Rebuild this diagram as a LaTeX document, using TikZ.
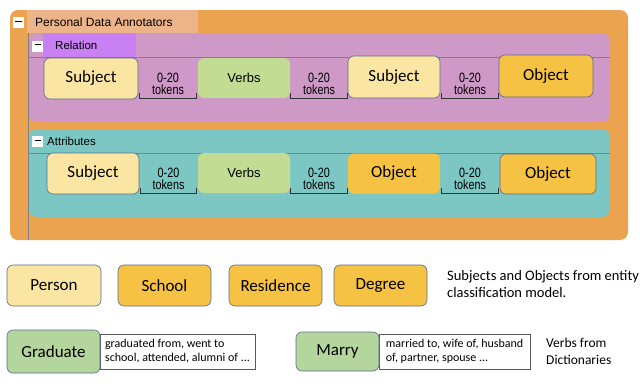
\documentclass[tikz,border=0pt]{standalone}
\usepackage{fontspec}
\setmainfont{Carlito}
\newfontfamily\arialf{Liberation Sans}
\usetikzlibrary{positioning}

\definecolor{frameorange}{HTML}{EBA350}
\definecolor{titletab}{HTML}{EDB48A}
\definecolor{relpink}{HTML}{CE98C7}
\definecolor{reltab}{HTML}{C880F2}
\definecolor{attrteal}{HTML}{7CC7C4}
\definecolor{subjyellow}{HTML}{FBE5A3}
\definecolor{objorange}{HTML}{F5C243}
\definecolor{verbgreen}{HTML}{C3DC93}
\definecolor{dictgreen}{HTML}{B4D59C}
\definecolor{edgeblue}{HTML}{5A6A8E}
\definecolor{rulegray}{HTML}{7F7F86}

\begin{document}
\begin{tikzpicture}[
x=1pt, y=-1pt,
ent/.style={draw=edgeblue, line width=0.6pt, rounded corners=6pt, inner sep=0pt,
  font=\fontsize{17}{19}\selectfont},
subj/.style={ent, fill=subjyellow},
obj/.style={ent, fill=objorange},
plainobj/.style={rounded corners=6pt, fill=objorange, inner sep=0pt,
  font=\fontsize{17}{19}\selectfont},
verb/.style={rounded corners=6pt, fill=verbgreen, inner sep=0pt,
  font=\arialf\fontsize{13}{15}\selectfont},
tok/.style={minimum width=58pt, minimum height=28pt, inner sep=0pt, align=center,
  font=\arialf\fontsize{13.5}{12}\selectfont},
bracket/.style={line width=0.8pt, black!80},
tablabel/.style={anchor=west, inner sep=0pt, font=\arialf\fontsize{11.5}{13}\selectfont},
minusbox/.style={fill=white, minimum size=11pt, inner sep=0pt},
cls/.style={ent, minimum width=93pt, minimum height=41pt},
dict/.style={draw=edgeblue, line width=0.6pt, rounded corners=6pt, fill=dictgreen,
  inner sep=0pt, font=\fontsize{17}{19}\selectfont},
wordlist/.style={draw=black!65, line width=0.8pt, fill=white, inner xsep=4pt, inner ysep=0pt,
  align=left, minimum width=155pt, minimum height=35pt, font=\fontsize{12}{14}\selectfont},
note/.style={anchor=west, inner sep=0pt, align=left, font=\fontsize{14.5}{17}\selectfont}
]
\useasboundingbox (0,0) rectangle (640,383);

% frames
\fill[frameorange] (10,10) [rounded corners=8pt] rectangle (628,240);
\fill[titletab] (27,10) rectangle (198,33);
\draw[rulegray, line width=0.6pt] (28,33) -- (28,240);
\fill[relpink, rounded corners=8pt] (29,33) rectangle (610,122);
\fill[reltab] (43,33) rectangle (136,57);
\draw[rulegray, line width=0.8pt] (29,57) -- (610,57);
\fill[attrteal, rounded corners=8pt] (29,129) rectangle (610,217);
\draw[rulegray, line width=0.8pt] (29,153) -- (610,153);

\node[minusbox] (mtop) at (18.5,22.5) {\rule[2.5pt]{6pt}{0.9pt}};
\node[tablabel, font=\arialf\fontsize{12}{14}\selectfont] (annot) at (35,22) {Personal Data Annotators};
\node[minusbox] (mrel) at (37.5,46) {\rule[2.5pt]{6pt}{0.9pt}};
\node[tablabel] (rel) at (55,45.5) {Relation};
\node[minusbox] (mattr) at (37.5,141.5) {\rule[2.5pt]{6pt}{0.9pt}};
\node[tablabel] (attr) at (47,141) {Attributes};

% relation row
\node[subj, minimum width=94pt, minimum height=41pt] (rsubj) at (91,78.5) {Subject};
\node[tok] (rtokA) at (168,84) {\scalebox{0.8}[1]{0-20}\\\scalebox{0.8}[1]{tokens}};
\node[verb, minimum width=92pt, minimum height=40pt] (rverb) at (244,78) {Verbs};
\node[tok] (rtokB) at (319,84) {\scalebox{0.8}[1]{0-20}\\\scalebox{0.8}[1]{tokens}};
\node[subj, minimum width=92pt, minimum height=42pt] (rsubjB) at (394,77) {Subject};
\node[tok] (rtokC) at (470,84) {\scalebox{0.8}[1]{0-20}\\\scalebox{0.8}[1]{tokens}};
\node[obj, minimum width=94pt, minimum height=42pt] (robj) at (546,76) {Object};

% attributes row
\node[subj, minimum width=92pt, minimum height=41pt] (asubj) at (93,173.5) {Subject};
\node[tok] (atokA) at (168.5,179) {\scalebox{0.8}[1]{0-20}\\\scalebox{0.8}[1]{tokens}};
\node[verb, minimum width=92pt, minimum height=40pt] (averb) at (244,173) {Verbs};
\node[tok] (atokB) at (319,179) {\scalebox{0.8}[1]{0-20}\\\scalebox{0.8}[1]{tokens}};
\node[plainobj, minimum width=92pt, minimum height=40pt] (aobj) at (394,173.5) {Object};
\node[tok] (atokC) at (470,179) {\scalebox{0.8}[1]{0-20}\\\scalebox{0.8}[1]{tokens}};
\node[obj, minimum width=96pt, minimum height=40pt] (aobjB) at (548,174) {Object};

\foreach \t in {rtokA,rtokB,rtokC,atokA,atokB,atokC}
  \draw[bracket] ([xshift=1pt,yshift=5pt]\t.south west) -- ([xshift=1pt]\t.south west)
    -- ([xshift=-1pt]\t.south east) -- ([xshift=-1pt,yshift=5pt]\t.south east);

% entity classes
\node[cls, fill=subjyellow, minimum width=94pt] (person) at (54,285.5) {Person};
\node[cls, fill=objorange] (school) at (164.5,285.5) {School};
\node[cls, fill=objorange] (residence) at (275.5,285.5) {Residence};
\node[cls, fill=objorange] (degree) at (380.5,285.5) {Degree};
\node[note] (entnote) at (447,284.5) {Subjects and Objects from entity\\classification model.};

% dictionaries
\node[wordlist] (gradlist) at (177.5,351.5) {graduated from, went to\\school, attended, alumni of ...};
\node[dict, minimum width=93pt, minimum height=43pt] (graduate) at (53.5,351.5) {Graduate};
\node[wordlist, minimum width=151pt] (marrylist) at (454.5,351.5) {married to, wife of, husband\\of, partner, spouse ...};
\node[dict, minimum width=83pt, minimum height=39pt] (marry) at (337.5,351.5) {Marry};
\node[note, font=\fontsize{13.5}{17}\selectfont] (dictnote) at (546,351.5) {Verbs from\\Dictionaries};
\end{tikzpicture}
\end{document}
